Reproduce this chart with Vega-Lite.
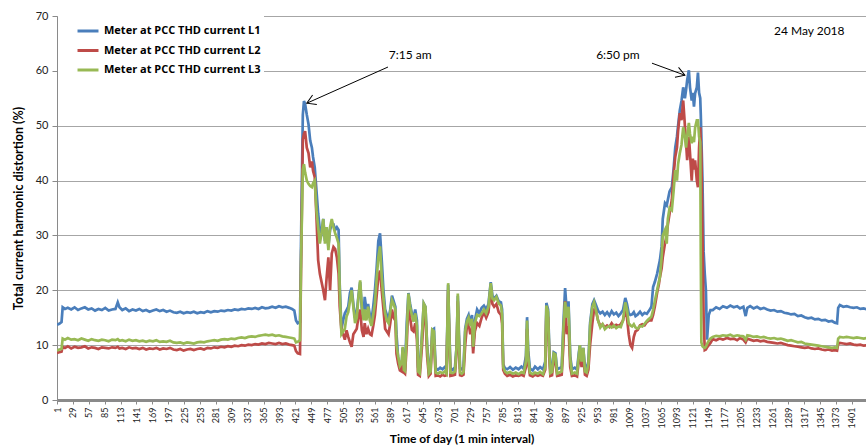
{
  "$schema": "https://vega.github.io/schema/vega-lite/v6.json",
  "width": 809,
  "height": 384,
  "autosize": "none",
  "padding": {"left": 57, "top": 16, "right": 0, "bottom": 45},
  "background": "white",
  "config": {"view": {"stroke": null}, "font": "Lato"},
  "encoding": {
    "x": {
      "field": "t", "type": "quantitative", "title": "Time of day (1 min interval)",
      "scale": {"domain": [1, 1426], "nice": false, "zero": false},
      "axis": {
        "values": [1,29,57,85,113,141,169,197,225,253,281,309,337,365,393,421,449,477,505,533,561,589,617,645,673,701,729,757,785,813,841,869,897,925,953,981,1009,1037,1065,1093,1121,1149,1177,1205,1233,1261,1289,1317,1345,1373,1401],
        "format": "d", "labelAngle": -90, "labelFont": "Liberation Sans Narrow, Lato", "labelFontSize": 9, "labelColor": "#222",
        "labelFlush": false, "labelOverlap": false, "labelBound": false,
        "labelPadding": 3, "tickSize": 4, "tickColor": "#8a8a8a",
        "domainColor": "#8a8a8a", "domainWidth": 3, "grid": false,
        "titleFontSize": 12, "titleFontWeight": "bold", "titleColor": "#000", "titlePadding": 6
      }
    },
    "y": {
      "field": "value", "type": "quantitative", "title": "Total current harmonic distortion (%)",
      "scale": {"domain": [0, 70], "nice": false},
      "axis": {
        "values": [0,10,20,30,40,50,60,70], "labelFontSize": 11, "labelColor": "#222", "labelPadding": 4,
        "tickSize": 5, "tickColor": "#8a8a8a", "domainColor": "#8a8a8a", "domainWidth": 1,
        "gridColor": "#a6a6a6", "gridWidth": 1.2,
        "titleFontSize": 12.5, "titleFontWeight": "bold", "titleColor": "#000", "titlePadding": 10
      }
    }
  },
  "layer": [
    {
      "data": {"values": [
        {"t":1,"L1":13.7,"L2":8.6,"L3":9.0},{"t":5,"L1":13.9,"L2":8.7,"L3":9.2},{"t":9,"L1":14.2,"L2":8.8,"L3":9.3},
        {"t":11,"L1":16.9,"L2":9.7,"L3":11.2},{"t":15,"L1":16.6,"L2":9.5,"L3":11.0},{"t":20,"L1":16.8,"L2":9.8,"L3":11.3},
        {"t":26,"L1":16.5,"L2":9.4,"L3":11.0},{"t":32,"L1":16.9,"L2":9.7,"L3":11.1},{"t":38,"L1":16.4,"L2":9.5,"L3":10.9},
        {"t":44,"L1":16.7,"L2":9.6,"L3":11.2},{"t":50,"L1":16.9,"L2":9.8,"L3":11.0},{"t":56,"L1":16.5,"L2":9.4,"L3":10.8},
        {"t":62,"L1":16.7,"L2":9.6,"L3":11.1},{"t":68,"L1":16.3,"L2":9.5,"L3":10.9},{"t":74,"L1":16.6,"L2":9.3,"L3":10.8},
        {"t":80,"L1":16.4,"L2":9.6,"L3":11.0},{"t":86,"L1":16.8,"L2":9.5,"L3":10.9},{"t":92,"L1":16.3,"L2":9.4,"L3":10.7},
        {"t":98,"L1":16.5,"L2":9.6,"L3":11.0},{"t":104,"L1":16.6,"L2":9.5,"L3":10.9},{"t":108,"L1":17.8,"L2":9.7,"L3":11.1},
        {"t":111,"L1":16.9,"L2":9.4,"L3":10.8},{"t":116,"L1":16.4,"L2":9.5,"L3":10.9},{"t":122,"L1":16.7,"L2":9.3,"L3":10.7},
        {"t":128,"L1":16.2,"L2":9.6,"L3":11.0},{"t":134,"L1":16.5,"L2":9.4,"L3":10.8},{"t":140,"L1":16.3,"L2":9.5,"L3":10.9},
        {"t":146,"L1":16.6,"L2":9.3,"L3":10.7},{"t":152,"L1":16.2,"L2":9.5,"L3":10.8},{"t":158,"L1":16.4,"L2":9.2,"L3":10.6},
        {"t":164,"L1":16.1,"L2":9.4,"L3":10.8},{"t":170,"L1":16.3,"L2":9.3,"L3":10.7},{"t":176,"L1":16.5,"L2":9.5,"L3":10.9},
        {"t":182,"L1":16.2,"L2":9.2,"L3":10.6},{"t":188,"L1":16.4,"L2":9.4,"L3":10.7},{"t":194,"L1":16.1,"L2":9.3,"L3":10.6},
        {"t":200,"L1":16.3,"L2":9.5,"L3":10.8},{"t":206,"L1":16.0,"L2":9.2,"L3":10.5},{"t":212,"L1":15.9,"L2":9.1,"L3":10.4},
        {"t":218,"L1":16.1,"L2":9.3,"L3":10.5},{"t":224,"L1":15.8,"L2":9.0,"L3":10.3},{"t":230,"L1":16.0,"L2":9.2,"L3":10.5},
        {"t":236,"L1":15.9,"L2":9.3,"L3":10.4},{"t":242,"L1":16.1,"L2":9.1,"L3":10.3},{"t":248,"L1":15.8,"L2":9.3,"L3":10.5},
        {"t":254,"L1":16.0,"L2":9.4,"L3":10.6},{"t":260,"L1":15.9,"L2":9.2,"L3":10.5},{"t":266,"L1":16.2,"L2":9.5,"L3":10.7},
        {"t":272,"L1":16.0,"L2":9.4,"L3":10.8},{"t":278,"L1":16.2,"L2":9.6,"L3":10.9},{"t":284,"L1":16.1,"L2":9.5,"L3":10.8},
        {"t":290,"L1":16.3,"L2":9.7,"L3":11.0},{"t":296,"L1":16.2,"L2":9.6,"L3":11.1},{"t":302,"L1":16.4,"L2":9.8,"L3":11.0},
        {"t":308,"L1":16.3,"L2":9.7,"L3":11.2},{"t":314,"L1":16.5,"L2":9.9,"L3":11.1},{"t":320,"L1":16.4,"L2":9.8,"L3":11.3},
        {"t":326,"L1":16.6,"L2":10.0,"L3":11.4},{"t":332,"L1":16.5,"L2":9.9,"L3":11.3},{"t":338,"L1":16.7,"L2":10.1,"L3":11.5},
        {"t":344,"L1":16.6,"L2":10.0,"L3":11.6},{"t":350,"L1":16.8,"L2":10.2,"L3":11.5},{"t":356,"L1":16.6,"L2":10.1,"L3":11.7},
        {"t":362,"L1":16.9,"L2":10.3,"L3":11.8},{"t":368,"L1":16.7,"L2":10.2,"L3":11.9},{"t":374,"L1":16.8,"L2":10.4,"L3":11.8},
        {"t":380,"L1":17.0,"L2":10.3,"L3":11.9},{"t":386,"L1":16.8,"L2":10.2,"L3":11.7},{"t":392,"L1":17.1,"L2":10.4,"L3":11.8},
        {"t":398,"L1":16.9,"L2":10.2,"L3":11.6},{"t":404,"L1":17.0,"L2":10.3,"L3":11.5},{"t":410,"L1":16.8,"L2":10.1,"L3":11.4},
        {"t":415,"L1":16.6,"L2":10.0,"L3":11.3},{"t":419,"L1":16.3,"L2":9.9,"L3":11.2},{"t":422,"L1":14.5,"L2":8.9,"L3":10.5},
        {"t":425,"L1":14.0,"L2":8.5,"L3":10.6},{"t":429,"L1":14.2,"L2":8.4,"L3":10.9},{"t":431,"L1":30,"L2":25,"L3":26},
        {"t":434,"L1":52,"L2":47.5,"L3":42},{"t":436,"L1":54.5,"L2":48.5,"L3":43},{"t":438,"L1":54,"L2":49,"L3":41.5},
        {"t":441,"L1":52,"L2":46,"L3":40},{"t":444,"L1":50.3,"L2":45,"L3":39.4},{"t":447,"L1":47.3,"L2":42.4,"L3":39},
        {"t":450,"L1":46,"L2":43.5,"L3":38.8},{"t":452,"L1":44.3,"L2":41.8,"L3":39.5},{"t":455,"L1":42.4,"L2":40.6,"L3":40},
        {"t":458,"L1":38.2,"L2":33.4,"L3":34.6},{"t":461,"L1":34,"L2":25.5,"L3":31.5},{"t":464,"L1":31,"L2":23,"L3":28.5},
        {"t":467,"L1":30.5,"L2":21.5,"L3":30.4},{"t":470,"L1":33,"L2":20,"L3":33},{"t":473,"L1":29,"L2":18.2,"L3":28.5},
        {"t":476,"L1":31.5,"L2":22.4,"L3":31.5},{"t":479,"L1":28,"L2":26,"L3":27.3},{"t":482,"L1":31,"L2":20,"L3":31.5},
        {"t":485,"L1":32,"L2":26.7,"L3":33},{"t":488,"L1":32,"L2":27.9,"L3":31.5},{"t":491,"L1":31,"L2":27.5,"L3":30.4},
        {"t":494,"L1":31.5,"L2":26,"L3":29.5},{"t":497,"L1":31,"L2":23,"L3":28.5},{"t":499,"L1":21,"L2":17,"L3":20},
        {"t":502,"L1":13,"L2":12.7,"L3":12},{"t":505,"L1":14.5,"L2":12,"L3":12.5},{"t":508,"L1":15.8,"L2":11,"L3":13},
        {"t":511,"L1":16.4,"L2":12.7,"L3":15.2},{"t":514,"L1":17,"L2":11.5,"L3":16},{"t":517,"L1":19.5,"L2":10.5,"L3":18},
        {"t":520,"L1":20.5,"L2":9.7,"L3":20},{"t":523,"L1":17.5,"L2":12,"L3":17},{"t":526,"L1":15,"L2":12.5,"L3":14},
        {"t":529,"L1":16,"L2":13,"L3":15},{"t":532,"L1":19,"L2":15.2,"L3":18.8},{"t":535,"L1":21.5,"L2":16.5,"L3":21.8},
        {"t":538,"L1":16.5,"L2":12.7,"L3":17},{"t":541,"L1":15.5,"L2":11.5,"L3":14.5},{"t":543,"L1":18.8,"L2":14,"L3":16.5},
        {"t":546,"L1":16.5,"L2":12,"L3":14.5},{"t":549,"L1":17.5,"L2":13,"L3":17},{"t":552,"L1":15.5,"L2":12,"L3":14.5},
        {"t":555,"L1":14.5,"L2":11.8,"L3":13.5},{"t":558,"L1":17,"L2":13.5,"L3":15.5},{"t":561,"L1":20,"L2":15.5,"L3":17.6},
        {"t":564,"L1":24,"L2":19,"L3":22},{"t":567,"L1":29,"L2":22.5,"L3":26},{"t":570,"L1":30.4,"L2":23.6,"L3":28},
        {"t":573,"L1":25.5,"L2":20,"L3":22.4},{"t":576,"L1":20,"L2":16.5,"L3":18.5},{"t":579,"L1":16.5,"L2":13,"L3":15.8},
        {"t":582,"L1":15.5,"L2":12.5,"L3":14.5},{"t":585,"L1":14.8,"L2":12,"L3":14},{"t":588,"L1":16.5,"L2":14,"L3":16},
        {"t":591,"L1":19,"L2":16.5,"L3":18.2},{"t":594,"L1":18,"L2":15,"L3":17.5},{"t":597,"L1":17,"L2":14.5,"L3":16.5},
        {"t":599,"L1":12,"L2":8.4,"L3":10},{"t":602,"L1":7.5,"L2":6.6,"L3":7.9},{"t":605,"L1":6.5,"L2":5.4,"L3":6.2},
        {"t":608,"L1":6.2,"L2":5.2,"L3":6.7},{"t":610,"L1":9.5,"L2":8.5,"L3":9.7},{"t":612,"L1":6,"L2":5,"L3":5.5},
        {"t":614,"L1":5.8,"L2":4.8,"L3":5.3},{"t":617,"L1":14,"L2":10,"L3":12},{"t":620,"L1":19.5,"L2":18,"L3":19.4},
        {"t":623,"L1":17.5,"L2":15,"L3":17},{"t":626,"L1":15.8,"L2":12.8,"L3":15.5},{"t":629,"L1":15,"L2":12.5,"L3":14.3},
        {"t":632,"L1":16.5,"L2":14,"L3":15.8},{"t":635,"L1":14.5,"L2":11,"L3":13.5},{"t":637,"L1":6,"L2":4.6,"L3":5.2},
        {"t":640,"L1":5.8,"L2":4.4,"L3":4.9},{"t":644,"L1":12,"L2":10,"L3":12},{"t":647,"L1":17.6,"L2":16,"L3":17.6},
        {"t":650,"L1":17,"L2":15.5,"L3":17},{"t":653,"L1":10,"L2":8,"L3":9.5},{"t":656,"L1":5.5,"L2":4.4,"L3":4.8},
        {"t":659,"L1":6,"L2":4.8,"L3":5.2},{"t":662,"L1":12.8,"L2":11.5,"L3":12.8},{"t":665,"L1":13,"L2":11,"L3":12.5},
        {"t":668,"L1":5.8,"L2":4.4,"L3":5},{"t":672,"L1":5.5,"L2":4.5,"L3":4.8},{"t":676,"L1":5.9,"L2":4.3,"L3":5.1},
        {"t":680,"L1":5.6,"L2":4.6,"L3":4.9},{"t":684,"L1":6,"L2":4.4,"L3":5.2},{"t":687,"L1":5.5,"L2":4.5,"L3":4.8},
        {"t":690,"L1":21,"L2":20,"L3":21.3},{"t":692,"L1":13,"L2":11,"L3":12.5},{"t":694,"L1":5.8,"L2":4.4,"L3":5},
        {"t":698,"L1":5.5,"L2":4.5,"L3":4.9},{"t":702,"L1":6,"L2":4.6,"L3":5.2},{"t":705,"L1":10,"L2":9,"L3":10},
        {"t":707,"L1":19,"L2":18,"L3":19.4},{"t":709,"L1":12,"L2":10,"L3":11},{"t":711,"L1":5.8,"L2":4.5,"L3":5},
        {"t":714,"L1":5.6,"L2":4.4,"L3":4.8},{"t":717,"L1":6,"L2":4.6,"L3":5.1},{"t":720,"L1":13,"L2":10,"L3":12.5},
        {"t":723,"L1":14.8,"L2":13.5,"L3":14.3},{"t":726,"L1":15.5,"L2":14,"L3":15},{"t":729,"L1":14,"L2":12,"L3":13.5},
        {"t":732,"L1":15.5,"L2":13,"L3":14.8},{"t":734,"L1":9.5,"L2":8.5,"L3":9.7},{"t":737,"L1":14.5,"L2":12.5,"L3":14},
        {"t":741,"L1":16.5,"L2":14,"L3":15.5},{"t":745,"L1":15.8,"L2":13.5,"L3":15.3},{"t":749,"L1":16.8,"L2":15,"L3":15.8},
        {"t":753,"L1":17.2,"L2":16,"L3":16.5},{"t":757,"L1":16.5,"L2":15,"L3":15.8},{"t":761,"L1":17.5,"L2":16,"L3":17},
        {"t":765,"L1":21.5,"L2":20.5,"L3":21.3},{"t":768,"L1":19,"L2":17.5,"L3":18.5},{"t":771,"L1":18.5,"L2":17,"L3":18.2},
        {"t":775,"L1":19,"L2":17.5,"L3":18.8},{"t":779,"L1":18,"L2":16,"L3":17.6},{"t":783,"L1":17.8,"L2":15.5,"L3":17.2},
        {"t":785,"L1":16.5,"L2":14,"L3":15.5},{"t":787,"L1":6.5,"L2":5.5,"L3":6},{"t":790,"L1":5.8,"L2":4.8,"L3":5.2},
        {"t":794,"L1":5.6,"L2":4.4,"L3":4.9},{"t":799,"L1":6,"L2":4.6,"L3":5.1},{"t":804,"L1":5.5,"L2":4.3,"L3":4.8},
        {"t":809,"L1":5.9,"L2":4.5,"L3":5},{"t":814,"L1":5.6,"L2":4.4,"L3":4.7},{"t":819,"L1":6.1,"L2":4.6,"L3":5.1},
        {"t":823,"L1":5.7,"L2":4.4,"L3":4.9},{"t":827,"L1":8,"L2":6,"L3":7},{"t":829,"L1":15.1,"L2":13,"L3":14.5},
        {"t":831,"L1":9,"L2":7,"L3":8},{"t":834,"L1":5.7,"L2":4.5,"L3":5},{"t":839,"L1":5.4,"L2":4.3,"L3":4.7},
        {"t":843,"L1":6.1,"L2":4.6,"L3":5},{"t":848,"L1":5.6,"L2":4.4,"L3":4.8},{"t":852,"L1":6,"L2":4.6,"L3":5.1},
        {"t":857,"L1":5.6,"L2":4.4,"L3":4.7},{"t":861,"L1":7,"L2":5.5,"L3":6},{"t":863,"L1":17.7,"L2":16,"L3":17.2},
        {"t":866,"L1":16.5,"L2":15,"L3":16},{"t":868,"L1":10,"L2":8,"L3":9},{"t":870,"L1":5.5,"L2":4.4,"L3":4.9},
        {"t":873,"L1":5.8,"L2":4.5,"L3":5.1},{"t":876,"L1":8.7,"L2":7.5,"L3":8.5},{"t":879,"L1":8.5,"L2":7,"L3":8.3},
        {"t":882,"L1":5.6,"L2":4.4,"L3":4.8},{"t":886,"L1":5.8,"L2":4.5,"L3":5},{"t":890,"L1":6,"L2":4.6,"L3":5.2},
        {"t":893,"L1":14,"L2":10,"L3":13},{"t":896,"L1":20.4,"L2":18,"L3":17.9},{"t":899,"L1":16,"L2":12,"L3":15},
        {"t":902,"L1":18,"L2":13.5,"L3":17},{"t":905,"L1":8,"L2":6,"L3":7.5},{"t":908,"L1":5.6,"L2":4.4,"L3":4.8},
        {"t":913,"L1":5.9,"L2":4.5,"L3":5},{"t":917,"L1":5.5,"L2":4.3,"L3":4.8},{"t":920,"L1":8.5,"L2":7,"L3":8},
        {"t":922,"L1":10,"L2":9,"L3":10},{"t":925,"L1":7,"L2":6,"L3":7},{"t":928,"L1":9.5,"L2":8,"L3":9.5},
        {"t":931,"L1":6,"L2":4.6,"L3":5.2},{"t":934,"L1":5.8,"L2":4.4,"L3":5},{"t":937,"L1":7,"L2":5.5,"L3":6.5},
        {"t":940,"L1":14,"L2":10,"L3":13.5},{"t":944,"L1":17.5,"L2":14,"L3":17},{"t":947,"L1":18.2,"L2":16.5,"L3":17.8},
        {"t":950,"L1":17.4,"L2":16.5,"L3":16.5},{"t":954,"L1":16.3,"L2":14.5,"L3":14.5},{"t":958,"L1":15.8,"L2":13.5,"L3":13.2},
        {"t":962,"L1":16.1,"L2":13.8,"L3":13.8},{"t":966,"L1":15.5,"L2":13.2,"L3":12.9},{"t":970,"L1":16,"L2":13.6,"L3":13.3},
        {"t":974,"L1":15.4,"L2":13.3,"L3":13.5},{"t":978,"L1":16.2,"L2":14,"L3":13.2},{"t":982,"L1":15.6,"L2":13.4,"L3":13.6},
        {"t":986,"L1":15.9,"L2":13.7,"L3":13.1},{"t":990,"L1":15.3,"L2":13.5,"L3":13.4},{"t":994,"L1":15.8,"L2":13.8,"L3":13.3},
        {"t":998,"L1":16.4,"L2":14.5,"L3":14.5},{"t":1002,"L1":18.6,"L2":16.5,"L3":17.8},{"t":1005,"L1":17.5,"L2":15,"L3":16.5},
        {"t":1008,"L1":15.8,"L2":12,"L3":14},{"t":1011,"L1":15.5,"L2":10,"L3":13.6},{"t":1014,"L1":15.6,"L2":9.5,"L3":13.4},
        {"t":1017,"L1":16,"L2":11.5,"L3":13.8},{"t":1020,"L1":15.3,"L2":12.5,"L3":13.2},{"t":1024,"L1":15.6,"L2":12.8,"L3":13},
        {"t":1028,"L1":16.1,"L2":13.6,"L3":13.5},{"t":1032,"L1":15.5,"L2":13.8,"L3":13.4},{"t":1036,"L1":15.9,"L2":13.6,"L3":13.9},
        {"t":1040,"L1":15.7,"L2":14.2,"L3":14.4},{"t":1044,"L1":16.3,"L2":14.5,"L3":14.8},{"t":1048,"L1":17,"L2":14.5,"L3":15.2},
        {"t":1051,"L1":20.6,"L2":15.5,"L3":16.4},{"t":1054,"L1":21.5,"L2":17,"L3":18},{"t":1058,"L1":23,"L2":19.5,"L3":20},
        {"t":1061,"L1":24.5,"L2":21,"L3":21.5},{"t":1063,"L1":25.5,"L2":22.4,"L3":22.4},{"t":1066,"L1":28,"L2":24,"L3":26},
        {"t":1068,"L1":33,"L2":26,"L3":30},{"t":1072,"L1":35.9,"L2":28.6,"L3":31},{"t":1075,"L1":35.5,"L2":30,"L3":28.5},
        {"t":1077,"L1":36.5,"L2":32,"L3":33},{"t":1080,"L1":38,"L2":34,"L3":35},{"t":1084,"L1":38.8,"L2":36.5,"L3":34.6},
        {"t":1087,"L1":42,"L2":41,"L3":38},{"t":1090,"L1":46,"L2":44.3,"L3":41.9},{"t":1093,"L1":48,"L2":46,"L3":40},
        {"t":1095,"L1":50,"L2":49,"L3":43},{"t":1098,"L1":52.8,"L2":52.3,"L3":45},{"t":1101,"L1":54.5,"L2":51,"L3":46.5},
        {"t":1104,"L1":57,"L2":54.6,"L3":49.7},{"t":1107,"L1":55,"L2":50,"L3":48},{"t":1109,"L1":56.5,"L2":47,"L3":46},
        {"t":1111,"L1":58.3,"L2":43.7,"L3":47.9},{"t":1114,"L1":60.1,"L2":48,"L3":50.5},{"t":1116,"L1":57,"L2":45,"L3":48.5},
        {"t":1119,"L1":54.6,"L2":40,"L3":46.8},{"t":1121,"L1":56,"L2":44,"L3":48},{"t":1123,"L1":53.5,"L2":42,"L3":47},
        {"t":1125,"L1":55.9,"L2":43.7,"L3":49.7},{"t":1128,"L1":57,"L2":40,"L3":51},{"t":1130,"L1":59.7,"L2":38.8,"L3":51},
        {"t":1132,"L1":56,"L2":46,"L3":48},{"t":1134,"L1":55,"L2":49.7,"L3":47},{"t":1135,"L1":52,"L2":47,"L3":26},
        {"t":1136,"L1":48,"L2":45,"L3":10.5},{"t":1138,"L1":40,"L2":30,"L3":9.8},{"t":1140,"L1":27,"L2":15,"L3":9.6},
        {"t":1142,"L1":23,"L2":9.1,"L3":9.5},{"t":1144,"L1":20,"L2":9.2,"L3":9.7},{"t":1146,"L1":11,"L2":9.6,"L3":10.2},
        {"t":1149,"L1":15.5,"L2":10,"L3":10.8},{"t":1152,"L1":16.4,"L2":10.4,"L3":11.2},{"t":1156,"L1":16.4,"L2":11.1,"L3":11.5},
        {"t":1162,"L1":16.9,"L2":10.9,"L3":11.7},{"t":1168,"L1":16.6,"L2":11.2,"L3":11.6},{"t":1174,"L1":17.1,"L2":11.0,"L3":11.8},
        {"t":1181,"L1":16.8,"L2":11.3,"L3":11.7},{"t":1187,"L1":17.2,"L2":11.1,"L3":11.9},{"t":1193,"L1":16.9,"L2":11.2,"L3":11.6},
        {"t":1199,"L1":17.1,"L2":10.9,"L3":11.8},{"t":1204,"L1":16.7,"L2":11.3,"L3":11.7},{"t":1210,"L1":17.0,"L2":11.0,"L3":11.6},
        {"t":1214,"L1":15.3,"L2":10.5,"L3":11.0},{"t":1217,"L1":16.8,"L2":11.2,"L3":11.8},{"t":1222,"L1":17.1,"L2":11.0,"L3":11.7},
        {"t":1228,"L1":16.7,"L2":10.8,"L3":11.5},{"t":1234,"L1":17.0,"L2":10.9,"L3":11.6},{"t":1240,"L1":16.6,"L2":10.7,"L3":11.4},
        {"t":1246,"L1":16.8,"L2":10.8,"L3":11.5},{"t":1252,"L1":16.5,"L2":10.6,"L3":11.3},{"t":1258,"L1":16.3,"L2":10.5,"L3":11.2},
        {"t":1264,"L1":16.4,"L2":10.4,"L3":11.3},{"t":1270,"L1":16.1,"L2":10.3,"L3":11.1},{"t":1276,"L1":16.2,"L2":10.4,"L3":11.2},
        {"t":1282,"L1":15.9,"L2":10.2,"L3":11.0},{"t":1288,"L1":15.8,"L2":10.0,"L3":10.8},{"t":1294,"L1":15.6,"L2":9.9,"L3":10.9},
        {"t":1300,"L1":15.7,"L2":9.8,"L3":10.7},{"t":1306,"L1":15.3,"L2":9.7,"L3":10.5},{"t":1312,"L1":15.4,"L2":9.6,"L3":10.6},
        {"t":1318,"L1":15.1,"L2":9.5,"L3":10.3},{"t":1324,"L1":14.9,"L2":9.6,"L3":10.2},{"t":1330,"L1":15.0,"L2":9.4,"L3":10.1},
        {"t":1336,"L1":14.7,"L2":9.3,"L3":10.0},{"t":1342,"L1":14.8,"L2":9.4,"L3":9.9},{"t":1348,"L1":14.5,"L2":9.2,"L3":9.8},
        {"t":1354,"L1":14.6,"L2":9.1,"L3":9.7},{"t":1360,"L1":14.3,"L2":9.2,"L3":9.6},{"t":1366,"L1":14.4,"L2":9.0,"L3":9.5},
        {"t":1371,"L1":14.1,"L2":9.1,"L3":9.6},{"t":1375,"L1":14.0,"L2":9.0,"L3":9.5},{"t":1377,"L1":16.8,"L2":10.2,"L3":11.2},
        {"t":1380,"L1":17.3,"L2":10.4,"L3":11.5},{"t":1386,"L1":17.0,"L2":10.3,"L3":11.4},{"t":1392,"L1":17.1,"L2":10.2,"L3":11.5},
        {"t":1398,"L1":16.9,"L2":10.3,"L3":11.4},{"t":1404,"L1":16.8,"L2":10.1,"L3":11.3},{"t":1410,"L1":16.9,"L2":10.0,"L3":11.4},
        {"t":1416,"L1":16.6,"L2":10.1,"L3":11.3},{"t":1422,"L1":16.7,"L2":9.9,"L3":11.2},{"t":1428,"L1":16.5,"L2":10.0,"L3":11.3},
        {"t":1434,"L1":16.6,"L2":9.9,"L3":11.2},{"t":1440,"L1":16.4,"L2":9.8,"L3":11.1}
      ]},
      "transform": [{"fold": ["L1", "L2", "L3"], "as": ["series", "value"]}],
      "mark": {"type": "line", "strokeWidth": 2.7, "clip": true},
      "encoding": {
        "color": {
          "field": "series", "type": "nominal",
          "scale": {"domain": ["L1", "L2", "L3"], "range": ["#4a7ebb", "#be4b48", "#98b954"]},
          "legend": {
            "orient": "none", "legendX": 1, "legendY": 0, "padding": 3, "title": null,
            "fillColor": "white", "symbolType": "stroke", "symbolSize": 440, "symbolStrokeWidth": 3,
            "symbolOffset": 15, "labelOffset": 4, "rowPadding": 1.5,
            "labelExpr": "'Meter at PCC THD current ' + datum.label",
            "labelFont": "Open Sans", "labelFontSize": 11, "labelFontWeight": "bold", "labelColor": "#000", "labelLimit": 300
          }
        }
      }
    },
    {
      "data": {"values": [
        {"t": 584, "value": 60.7, "t2": 441, "v2": 54.1},
        {"t": 1049, "value": 61.4, "t2": 1107, "v2": 59.2}
      ]},
      "mark": {"type": "rule", "color": "#000", "strokeWidth": 1},
      "encoding": {
        "x2": {"field": "t2"},
        "y2": {"field": "v2"}
      }
    },
    {
      "data": {"values": [{"t": 441, "value": 54.1}]},
      "mark": {"type": "point", "shape": "M-1,-0.6L0,0L-1,0.6", "size": 300, "filled": false, "stroke": "#000", "strokeWidth": 1, "opacity": 1, "angle": 156}
    },
    {
      "data": {"values": [{"t": 1107, "value": 59.2}]},
      "mark": {"type": "point", "shape": "M-1,-0.6L0,0L-1,0.6", "size": 300, "filled": false, "stroke": "#000", "strokeWidth": 1, "opacity": 1, "angle": 20}
    },
    {
      "data": {"values": [
        {"t": 623, "value": 62.8, "label": "7:15 am"},
        {"t": 989, "value": 62.8, "label": "6:50 pm"},
        {"t": 1326, "value": 67.2, "label": "24 May 2018"}
      ]},
      "mark": {"type": "text", "fontSize": 12, "color": "#000", "align": "center", "baseline": "middle"},
      "encoding": {
        "text": {"field": "label"}
      }
    }
  ]
}
